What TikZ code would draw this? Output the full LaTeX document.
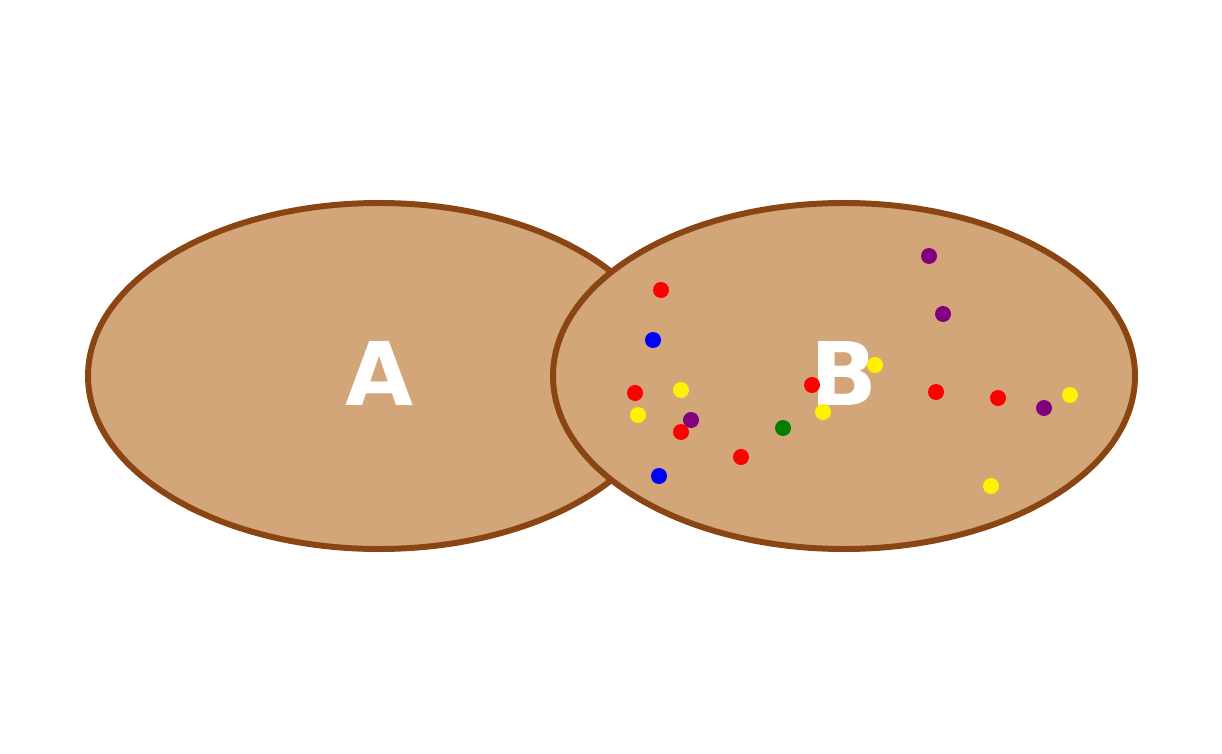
\documentclass[tikz,border=0pt]{standalone}
\usepackage{fontspec}
\setsansfont{DejaVu Sans}
\definecolor{tan}{HTML}{D2A679}
\definecolor{rim}{HTML}{8B4513}
\definecolor{dgreen}{HTML}{008000}
\definecolor{dpurple}{HTML}{800080}
\tikzset{set/.style={fill=tan, draw=rim, line width=3.4pt},
         setlabel/.style={text=white, font=\sffamily\bfseries\fontsize{50}{50}\selectfont},
         dot/.style={circle, fill=#1, inner sep=0pt, minimum size=0.32cm}}
\begin{document}
\begin{tikzpicture}[x=0.02cm, y=-0.02cm]
    \useasboundingbox (0,0) rectangle (1222,753);
    % the two sets
    \draw[set] (379,376) ellipse [x radius=291, y radius=173];
    \draw[set] (844,376) ellipse [x radius=291, y radius=173];
    \node[setlabel] (labA) at (379,373) {A};
    \node[setlabel] (labB) at (844,373) {B};
    % elements
    \foreach \x/\y/\c [count=\i] in {661/290/red, 653/340/blue, 635/393/red,
            681/390/yellow, 638/415/yellow, 691/420/dpurple, 681/432/red,
            659/476/blue, 741/457/red, 783/428/dgreen, 823/412/yellow,
            812/385/red, 875/365/yellow, 929/256/dpurple, 943/314/dpurple,
            936/392/red, 998/398/red, 1044/408/dpurple, 1070/395/yellow,
            991/486/yellow}
        \node[dot=\c] (e\i) at (\x,\y) {};
\end{tikzpicture}
\end{document}
